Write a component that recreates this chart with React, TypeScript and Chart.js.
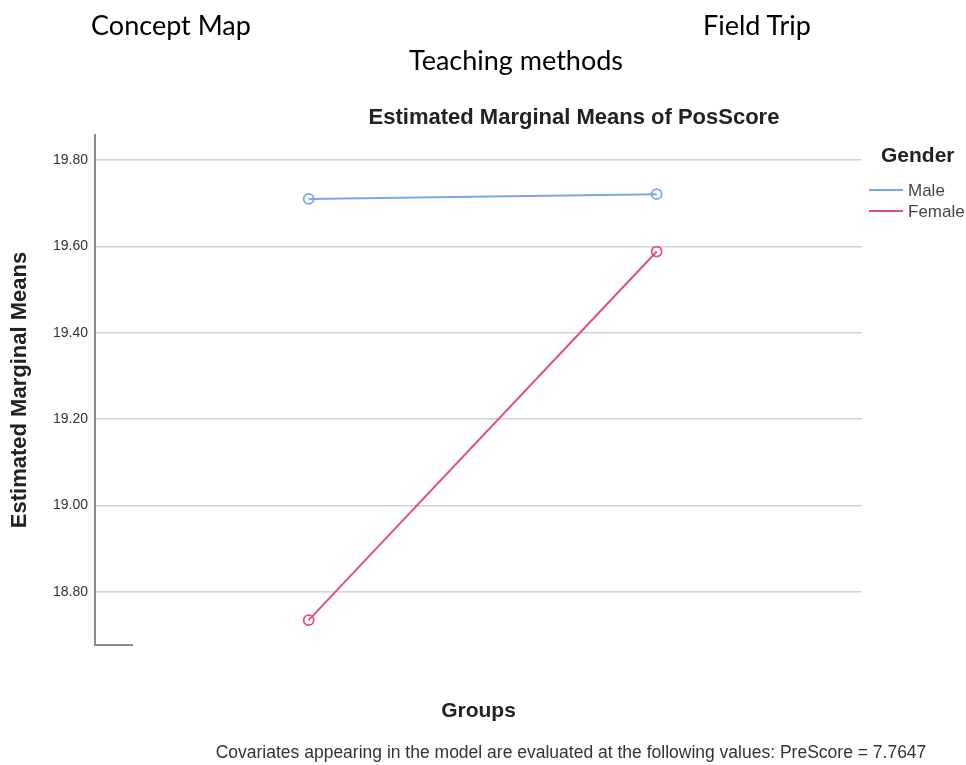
import { useEffect, useRef } from "react";
import { Chart, registerables } from "chart.js";

Chart.register(...registerables);

// ---- data ----
const groups = ["Concept Map", "Field Trip"];
const groupPositions = [0, 1];
const maleMeans = [19.71, 19.721];
const femaleMeans = [18.734, 19.588];
const yTicks = [18.8, 19.0, 19.2, 19.4, 19.6, 19.8];
const seriesNames = ["Male", "Female"];
const seriesColors = ["#78a6ea", "#e2507a"];
const legendTitle = "Gender";
const chartTitle = "Estimated Marginal Means of PosScore";
const yTitle = "Estimated Marginal Means";
const xTitle = "Groups";
const factorTitle = "Teaching methods";
const footnote =
  "Covariates appearing in the model are evaluated at the following values: PreScore = 7.7647";

const SANS = '"Liberation Sans", Arial, sans-serif';

const extrasPlugin = {
  id: "spssExtras",
  afterDraw(chart: any) {
    const ctx = chart.ctx as CanvasRenderingContext2D;
    const { left, bottom } = chart.chartArea;
    ctx.save();
    // short x axis stub
    ctx.strokeStyle = "#8c8c8c";
    ctx.lineWidth = 2;
    ctx.beginPath();
    ctx.moveTo(left - 1, bottom);
    ctx.lineTo(left + 38, bottom);
    ctx.stroke();
    // title
    ctx.fillStyle = "#222";
    ctx.font = `bold 22px ${SANS}`;
    ctx.textAlign = "center";
    ctx.textBaseline = "middle";
    ctx.fillText(chartTitle, 574, 118);
    // legend
    ctx.textAlign = "left";
    ctx.font = `bold 21px ${SANS}`;
    ctx.fillText(legendTitle, 881, 156);
    ctx.font = `17px ${SANS}`;
    chart.data.datasets.forEach((ds: any, i: number) => {
      const y = 190 + i * 21;
      ctx.strokeStyle = ds.borderColor;
      ctx.lineWidth = 2;
      ctx.beginPath();
      ctx.moveTo(869, y);
      ctx.lineTo(903, y);
      ctx.stroke();
      ctx.fillStyle = "#444";
      ctx.fillText(ds.label, 908, y + 1);
    });
    ctx.restore();
  },
};

export default function App() {
  const ref = useRef<HTMLCanvasElement | null>(null);

  useEffect(() => {
    if (!ref.current) return;
    const chart = new Chart(ref.current, {
      type: "line",
      data: {
        datasets: [maleMeans, femaleMeans].map((vals, i) => ({
          label: seriesNames[i],
          data: vals.map((v, j) => ({ x: groupPositions[j], y: v })),
          borderColor: seriesColors[i],
          backgroundColor: "#ffffff",
          borderWidth: 2,
          pointRadius: 5,
          pointBorderWidth: 1.8,
          pointBackgroundColor: "rgba(255,255,255,0)",
          pointBorderColor: seriesColors[i],
          tension: 0,
        })),
      },
      options: {
        animation: false,
        responsive: true,
        maintainAspectRatio: false,
        layout: { padding: { top: 135, right: 104, left: 0, bottom: 0 } },
        plugins: {
          legend: { display: false },
          title: { display: false },
          tooltip: { enabled: false },
        },
        scales: {
          x: {
            type: "linear",
            min: -0.614,
            max: 1.59,
            grid: { display: false },
            border: { display: false },
            ticks: { display: false },
            title: {
              display: true,
              text: xTitle,
              color: "#222",
              font: { family: SANS, size: 21, weight: "bold" },
              padding: { top: 0, bottom: 41 },
            },
            afterFit: (axis: any) => {
              axis.height = 120;
            },
          },
          y: {
            type: "linear",
            min: 18.6765,
            max: 19.858,
            afterBuildTicks: (axis: any) => {
              axis.ticks = yTicks.map((v) => ({ value: v }));
            },
            afterFit: (axis: any) => {
              axis.width = 95;
            },
            grid: { color: "#d2d2d2", lineWidth: 1.5, drawTicks: false },
            border: { display: true, color: "#8c8c8c", width: 2 },
            ticks: {
              padding: 7,
              color: "#333",
              font: { family: SANS, size: 14 },
              callback: (v: any) => Number(v).toFixed(2),
            },
            title: {
              display: true,
              text: yTitle,
              color: "#222",
              font: { family: SANS, size: 22, weight: "bold" },
              padding: { top: 7, bottom: 0 },
            },
          },
        },
      },
      plugins: [extrasPlugin],
    });
    return () => chart.destroy();
  }, []);

  const topFont = 'Lato, "Open Sans", "Liberation Sans", sans-serif';
  const topLabel = (text: string, cx: number, cy: number) => (
    <div
      key={text}
      style={{
        position: "absolute",
        left: cx,
        top: cy - 15,
        height: 30,
        lineHeight: "30px",
        transform: "translateX(-50%)",
        whiteSpace: "nowrap",
        fontFamily: topFont,
        fontSize: 27,
        color: "#000",
      }}
    >
      {text}
    </div>
  );

  return (
    <div
      style={{
        position: "absolute",
        left: 0,
        top: 0,
        width: 966,
        height: 765,
        background: "#fff",
        overflow: "hidden",
      }}
    >
      <canvas ref={ref} />
      {topLabel(groups[0], 171, 25)}
      {topLabel(groups[1], 757, 25)}
      {topLabel(factorTitle, 516, 60)}
      <div
        style={{
          position: "absolute",
          left: 571,
          top: 742,
          lineHeight: "20px",
          transform: "translateX(-50%)",
          whiteSpace: "nowrap",
          fontFamily: SANS,
          fontSize: 17.5,
          color: "#333",
        }}
      >
        {footnote}
      </div>
    </div>
  );
}
